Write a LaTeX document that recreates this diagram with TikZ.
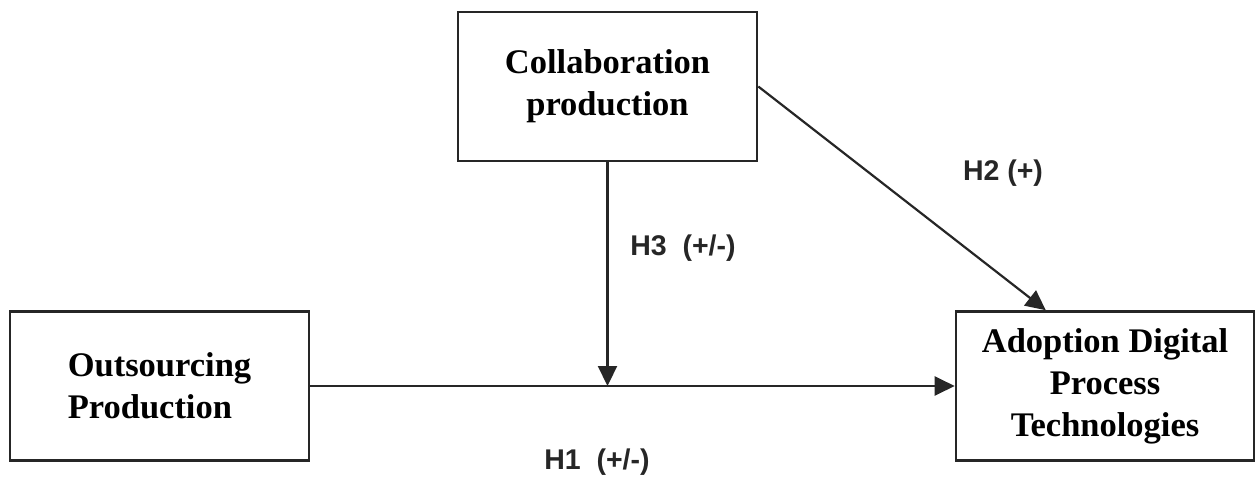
\documentclass[tikz,border=0pt]{standalone}
\usepackage{fontspec}
\setmainfont{Liberation Serif}
\newfontfamily\arialfont{Liberation Sans}
\usetikzlibrary{arrows.meta}
\tikzset{
  boxnode/.style={draw=black!85, line width=2.6pt, inner sep=0pt, minimum width=299pt, minimum height=149pt,
    font=\fontsize{34.5}{42}\selectfont\bfseries},
  conn/.style={draw=black!85, line width=2.2pt, -{Triangle[length=20pt,width=19pt]}},
  hlabel/.style={font=\arialfont\fontsize{28.5}{34}\selectfont\bfseries, text=black!85, inner sep=0pt}
}
\begin{document}
\begin{tikzpicture}[x=1pt,y=-1pt]
\useasboundingbox (0,0) rectangle (1256,477);
\node[boxnode, align=center] (collab) at (607.5,86.5) {Collaboration\\production};
\node[boxnode, align=left] (outs) at (159.5,386) {Outsourcing\\Production};
\node[boxnode, align=center, minimum width=298pt] (adopt) at (1105,386) {Adoption Digital\\Process\\Technologies};
\coordinate (mid) at (collab.south |- outs.east);
\draw[conn] (outs.east) -- (adopt.west);
\draw[conn] (collab.south) -- (mid);
\draw[conn] (collab.east) -- (adopt.128.7);
\node[hlabel] (h1) at (597,462) {H1\ \ (+/-)};
\node[hlabel] (h3) at (683,248) {H3\ \ (+/-)};
\node[hlabel] (h2) at (1003,173) {H2 (+)};
\end{tikzpicture}
\end{document}
